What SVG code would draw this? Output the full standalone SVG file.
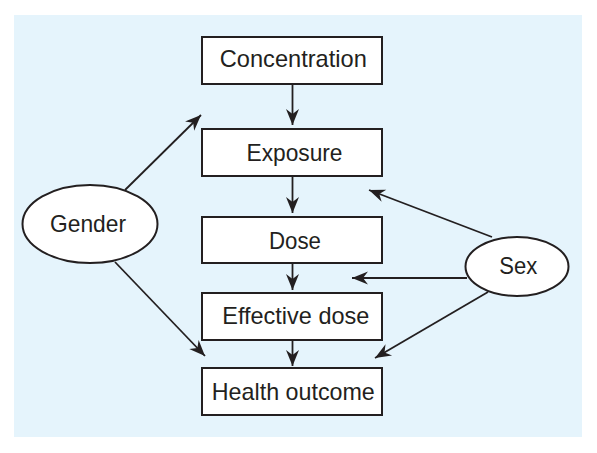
<svg xmlns="http://www.w3.org/2000/svg" width="597" height="453" viewBox="0 0 597 453">
<defs>
<style>
.box{fill:#ffffff;stroke:#231f20;stroke-width:2}
.ell{fill:#ffffff;stroke:#231f20;stroke-width:2}
.lbl{font-family:"Liberation Sans",Arial,sans-serif;font-size:24px;fill:#231f20;text-anchor:middle}
.con{stroke:#231f20;stroke-width:1.8;fill:none;marker-end:url(#ah)}
</style>
<marker id="ah" markerUnits="userSpaceOnUse" markerWidth="20" markerHeight="16" viewBox="-17 -8 18 16" refX="0" refY="0" orient="auto">
<path d="M0,0 L-16,-6.5 L-11,0 L-16,6.5 Z" fill="#231f20"/>
</marker>
</defs>
<rect x="14" y="15" width="568" height="422" fill="#e5f4fc"/>
<g id="connectors">
<line class="con" x1="292.5" y1="84" x2="292.5" y2="125"/>
<line class="con" x1="292.5" y1="176" x2="292.5" y2="213"/>
<line class="con" x1="292.5" y1="263" x2="292.5" y2="290"/>
<line class="con" x1="292.5" y1="340" x2="292.5" y2="366"/>
<line class="con" x1="125" y1="190" x2="201" y2="115"/>
<line class="con" x1="115" y1="262" x2="205" y2="356"/>
<line class="con" x1="492" y1="237" x2="369" y2="190"/>
<line class="con" x1="467" y1="278" x2="352" y2="278"/>
<line class="con" x1="488" y1="292" x2="375" y2="358"/>
</g>
<g id="concentration">
<rect class="box" x="202" y="37" width="180" height="47"/>
<text class="lbl" x="293.3" y="67" textLength="147" lengthAdjust="spacingAndGlyphs">Concentration</text>
</g>
<g id="exposure">
<rect class="box" x="202" y="129" width="180" height="47"/>
<text class="lbl" x="294.5" y="161" textLength="96" lengthAdjust="spacingAndGlyphs">Exposure</text>
</g>
<g id="dose">
<rect class="box" x="202" y="217" width="180" height="46"/>
<text class="lbl" x="295" y="249" textLength="52" lengthAdjust="spacingAndGlyphs">Dose</text>
</g>
<g id="effective-dose">
<rect class="box" x="202" y="293" width="180" height="47"/>
<text class="lbl" x="295.8" y="324" textLength="147" lengthAdjust="spacingAndGlyphs">Effective dose</text>
</g>
<g id="health-outcome">
<rect class="box" x="202" y="368" width="180" height="47"/>
<text class="lbl" x="293.3" y="400" textLength="163" lengthAdjust="spacingAndGlyphs">Health outcome</text>
</g>
<g id="gender">
<ellipse class="ell" cx="90" cy="224" rx="67.5" ry="39"/>
<text class="lbl" x="88" y="232" textLength="76" lengthAdjust="spacingAndGlyphs">Gender</text>
</g>
<g id="sex">
<ellipse class="ell" cx="517" cy="266.5" rx="51.5" ry="29.5"/>
<text class="lbl" x="518.3" y="274" textLength="38" lengthAdjust="spacingAndGlyphs">Sex</text>
</g>
</svg>
